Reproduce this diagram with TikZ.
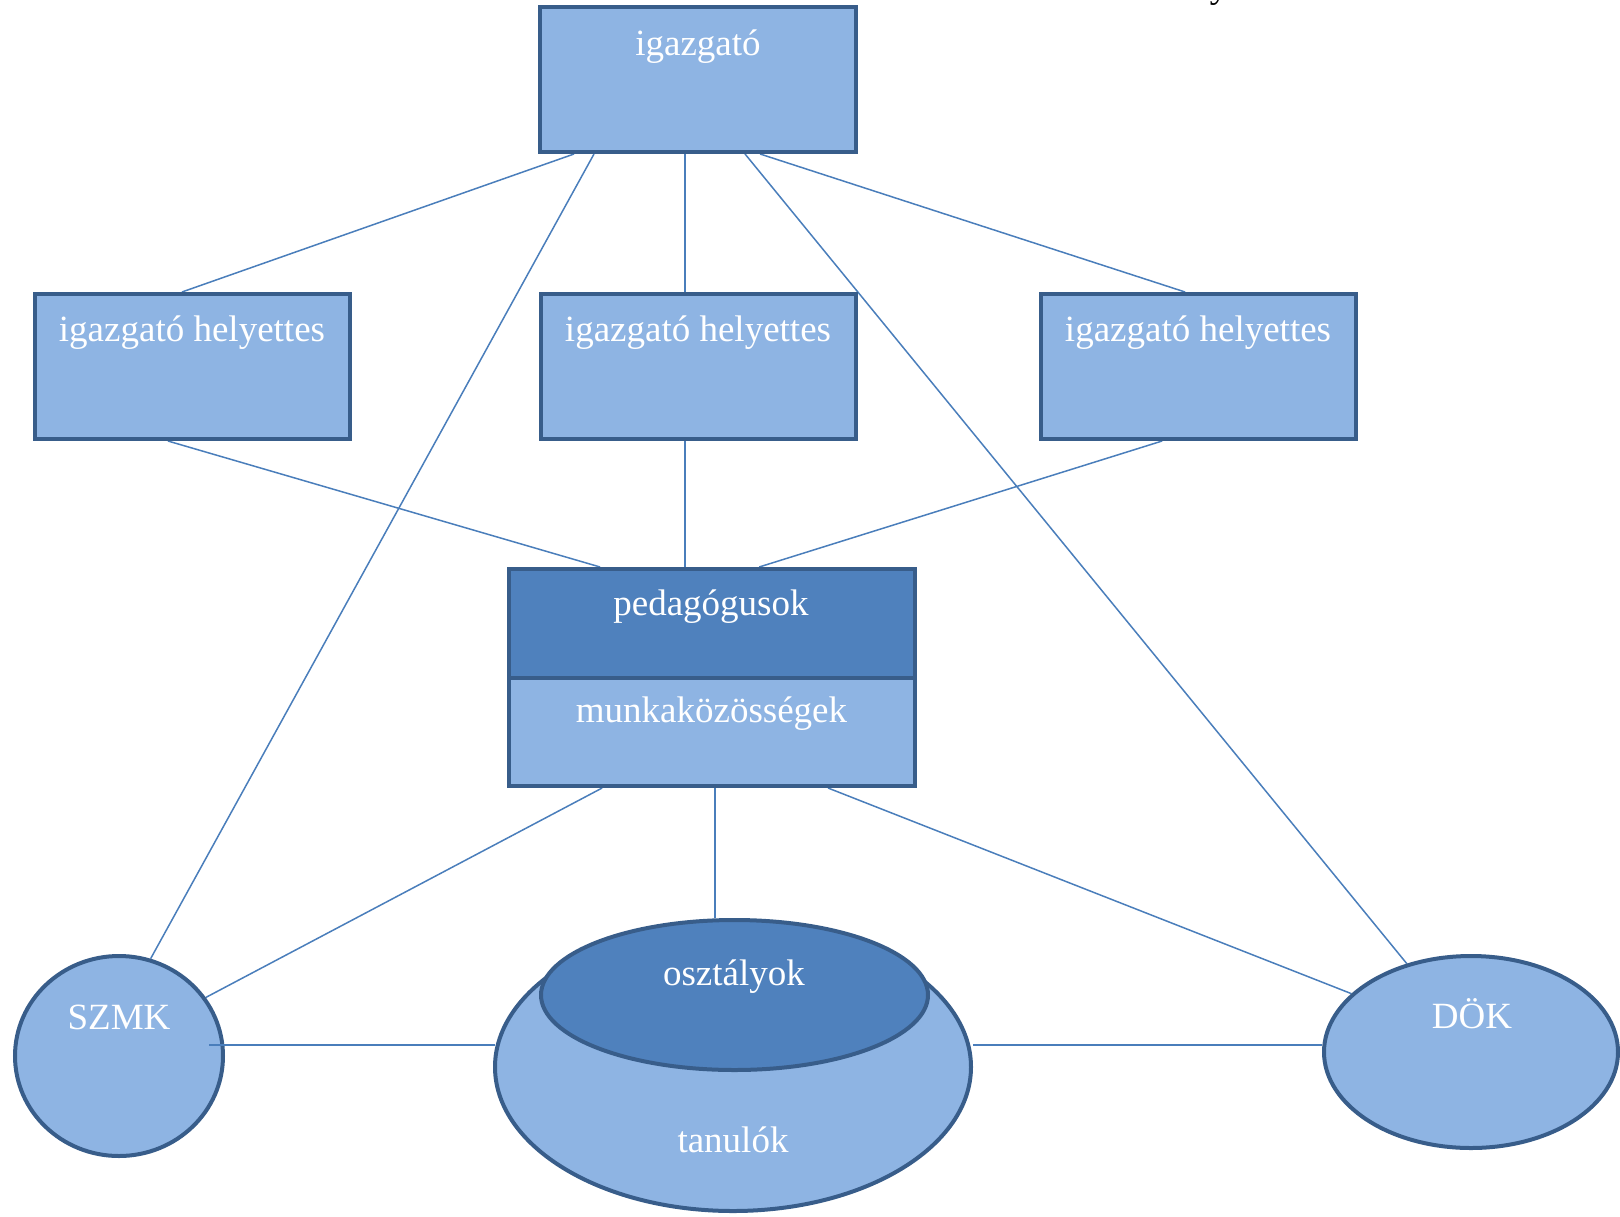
\documentclass[tikz,border=0pt]{standalone}
\usepackage{fontspec}
\setmainfont{Liberation Serif}
\usetikzlibrary{shapes.geometric,calc,backgrounds}
\definecolor{boxfill}{HTML}{8EB4E3}
\definecolor{darkfill}{HTML}{4F81BD}
\definecolor{boxedge}{HTML}{385D8A}
\definecolor{conn}{HTML}{4A7EBB}
\begin{document}
\begin{tikzpicture}[x=1pt,y=-1pt,
  shapebox/.style={draw=boxedge, line width=4pt, fill=boxfill, rectangle, inner sep=0pt},
  darkbox/.style={shapebox, fill=darkfill},
  oval/.style={draw=boxedge, line width=4pt, fill=boxfill, ellipse, inner sep=0pt},
  darkoval/.style={oval, fill=darkfill},
  lbl/.style={text=white, font=\fontsize{37}{44}\selectfont, inner sep=0pt, anchor=base},
  link/.style={draw=conn, line width=1.5pt}]
\useasboundingbox (0,0) rectangle (1620,1216);
\clip (0,0) rectangle (1620,1216);

% boxes
\node[shapebox, minimum width=316pt, minimum height=145pt] (ig) at (698,79.5) {};
\node[shapebox, minimum width=315pt, minimum height=145pt] (h1) at (192.5,366.5) {};
\node[shapebox, minimum width=315pt, minimum height=145pt] (h2) at (698.5,366.5) {};
\node[shapebox, minimum width=315pt, minimum height=145pt] (h3) at (1198.5,366.5) {};
\node[darkbox, minimum width=406pt, minimum height=109pt] (ped) at (712,623.5) {};
\node[shapebox, minimum width=406pt, minimum height=108pt] (munk) at (712,732) {};
\node[oval, minimum width=208pt, minimum height=200pt] (szmk) at (119,1056) {};
\node[oval, minimum width=294pt, minimum height=192pt] (dok) at (1471,1052) {};
\node[oval, minimum width=476pt, minimum height=288pt] (tan) at (733,1067) {};
\node[darkoval, minimum width=387pt, minimum height=150pt] (osz) at (734.5,995) {};

% labels
\node[lbl] (tig) at (698,55) {igazgató};
\node[lbl] (th1) at (192,341) {igazgató helyettes};
\node[lbl] (th2) at (698,341) {igazgató helyettes};
\node[lbl] (th3) at (1198,341) {igazgató helyettes};
\node[lbl] (tped) at (711,615) {pedagógusok};
\node[lbl] (tmunk) at (711.5,722) {munkaközösségek};
\node[lbl] (tosz) at (734,985) {osztályok};
\node[lbl] (ttan) at (733,1152) {tanulók};
\node[lbl] (tszmk) at (119,1029) {SZMK};
\node[lbl] (tdok) at (1472,1028) {DÖK};
\node[lbl, text=black] (frag) at (1219,-3) {y};

% connector anchor points
\coordinate (igA) at ($(ig.south west)!0.459!(ig.south east)$);
\coordinate (h2B) at ($(h2.south west)!0.458!(h2.south east)$);
\coordinate (mB) at ($(munk.south west)!0.507!(munk.south east)$);
\coordinate (ly) at (0,1045);
\coordinate (lt) at ($(szmk.center |- ly)+(90,0)$);
\coordinate (lend) at ($(ly -| tan.west)+(2,0)$);

\begin{scope}[on background layer]
\draw[link] ($(ig.south west)!0.1125!(ig.south east)$) -- ($(h1.north west)!0.467!(h1.north east)$);
\draw[link] ($(ig.south west)!0.175!(ig.south east)$) -- (szmk.72);
\draw[link] (igA) -- (igA |- h2.north);
\draw[link] ($(ig.south west)!0.647!(ig.south east)$) -- (dok.126);
\draw[link] ($(ig.south west)!0.694!(ig.south east)$) -- ($(h3.north west)!0.458!(h3.north east)$);
\draw[link] ($(h1.south west)!0.423!(h1.south east)$) -- ($(ped.north west)!0.227!(ped.north east)$);
\draw[link] (h2B) -- (h2B |- ped.north);
\draw[link] ($(h3.south west)!0.386!(h3.south east)$) -- ($(ped.north west)!0.615!(ped.north east)$);
\draw[link] ($(munk.south west)!0.232!(munk.south east)$) -- (szmk.34);
\draw[link] (mB) -- (mB |- osz.north);
\draw[link] ($(munk.south west)!0.783!(munk.south east)$) -- (dok.154.4);
\draw[link] (ly -| tan.east) -- (ly -| dok.west);
\end{scope}
\draw[link] (lt) -- (lend);
\end{tikzpicture}
\end{document}
